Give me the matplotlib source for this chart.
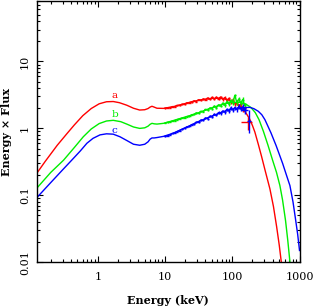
import matplotlib
matplotlib.use("Agg")
import matplotlib.pyplot as plt
import numpy as np

# ---- model curves (Energy keV, Energy x Flux) ----
E_a = [0.125, 0.165, 0.25, 0.35, 0.45, 0.6, 0.8, 1.05, 1.35, 1.7, 2.1, 2.7, 3.4, 4.2, 5.0, 5.6, 6.0, 6.4,
       6.9, 7.6, 9.5, 13, 17, 25, 35, 50, 65, 80, 100, 120, 140, 160, 180, 200, 217, 245, 273, 310, 363,
       410, 457, 500, 540]
F_a = [0.216, 0.32, 0.56, 0.84, 1.13, 1.55, 1.98, 2.33, 2.5, 2.52, 2.42, 2.22, 2.0, 1.88, 1.9, 1.98, 2.08,
       2.14, 2.08, 2.0, 1.99, 2.1, 2.25, 2.5, 2.68, 2.8, 2.82, 2.75, 2.55, 2.3, 2.0, 1.7, 1.4, 1.1, 0.88,
       0.57, 0.38, 0.23, 0.125, 0.068, 0.034, 0.018, 0.0095]

E_b = [0.125, 0.2, 0.31, 0.45, 0.61, 0.8, 1.05, 1.35, 1.7, 2.2, 2.7, 3.4, 4.2, 5.0, 5.6, 6.0, 6.4, 6.9, 7.6,
       9.5, 13, 17, 25, 30, 47, 73, 100, 130, 160, 190, 220, 250, 291, 340, 398, 455, 511, 560, 620, 670, 725]
F_b = [0.129, 0.22, 0.335, 0.52, 0.75, 0.98, 1.18, 1.29, 1.32, 1.26, 1.16, 1.05, 1.0, 1.02, 1.08, 1.15, 1.19,
       1.17, 1.16, 1.19, 1.3, 1.41, 1.58, 1.68, 1.99, 2.3, 2.45, 2.45, 2.3, 2.05, 1.72, 1.35, 0.9, 0.56,
       0.335, 0.22, 0.14, 0.085, 0.042, 0.021, 0.0095]

E_c = [0.125, 0.2, 0.3, 0.41, 0.55, 0.69, 0.85, 1.08, 1.35, 1.7, 2.14, 2.7, 3.4, 4.2, 5.0, 5.6, 6.0, 6.4, 6.9,
       7.6, 9.5, 13, 17, 23.5, 30, 47, 73, 103, 130, 160, 183, 210, 244, 275, 306, 376, 450, 561, 640, 720,
       800, 870, 940, 1000]
F_c = [0.093, 0.155, 0.24, 0.335, 0.46, 0.6, 0.71, 0.8, 0.83, 0.82, 0.75, 0.66, 0.58, 0.56, 0.58, 0.63, 0.69,
       0.72, 0.72, 0.73, 0.76, 0.84, 0.95, 1.1, 1.24, 1.49, 1.77, 1.95, 2.02, 2.05, 2.06, 1.97, 1.8, 1.6,
       1.35, 0.86, 0.55, 0.3, 0.2, 0.14, 0.08, 0.045, 0.026, 0.015]

# ---- data points ----
E_data = [10, 11, 12, 13, 14, 15, 16.5, 18, 19.5, 21, 23, 25, 27, 29, 31.5, 34, 37, 40, 43, 46.5, 50, 54, 58,
          62.5, 67, 72, 77, 83, 89, 95, 102, 109, 117, 125, 134, 143, 153]
D_a = [2.00, 2.04, 2.05, 2.12, 2.10, 2.20, 2.20, 2.30, 2.28, 2.40, 2.42, 2.48, 2.58, 2.52, 2.68, 2.62, 2.75,
       2.70, 2.85, 2.74, 2.90, 2.76, 2.92, 2.78, 2.95, 2.72, 2.88, 2.62, 2.80, 2.50, 2.66, 2.35, 2.45, 2.15,
       2.30, 1.90, 2.00]
D_b = [1.20, 1.23, 1.25, 1.29, 1.31, 1.35, 1.38, 1.43, 1.44, 1.50, 1.52, 1.60, 1.62, 1.70, 1.68, 1.80, 1.78,
       1.92, 1.88, 2.02, 1.98, 2.15, 2.05, 2.25, 2.15, 2.38, 2.22, 2.50, 2.32, 2.62, 2.40, 3.10, 2.45, 2.75,
       2.40, 2.70, 2.20]
D_c = [0.76, 0.78, 0.81, 0.84, 0.86, 0.89, 0.93, 0.97, 1.00, 1.05, 1.07, 1.14, 1.15, 1.24, 1.24, 1.33, 1.32,
       1.43, 1.40, 1.52, 1.50, 1.62, 1.58, 1.72, 1.68, 1.82, 1.75, 1.92, 1.83, 2.02, 1.90, 2.05, 1.92, 2.12,
       1.95, 2.10, 1.90]
rel_err = [0.01, 0.01, 0.01, 0.012, 0.012, 0.013, 0.014, 0.015, 0.016, 0.017, 0.018, 0.02, 0.021, 0.022,
           0.024, 0.025, 0.027, 0.029, 0.031, 0.033, 0.035, 0.037, 0.04, 0.042, 0.045, 0.048, 0.05, 0.053,
           0.056, 0.06, 0.064, 0.068, 0.072, 0.077, 0.082, 0.088, 0.095]

# high-energy points: (E, F, E_lo, E_hi, F_lo, F_hi)
hi_a = [(173, 1.26, 137, 194, 0.94, 1.49)]
hi_c = [(154, 1.88, 137, 170, 1.65, 2.12), (177, 1.30, 168, 190, 0.84, 1.90)]

labels = ["a", "b", "c"]
label_E = [1.76, 1.81, 1.76]
label_F = [3.05, 1.62, 0.94]
colors = ["#ff0000", "#00ee00", "#0000ff"]

fig = plt.figure(figsize=(3.16, 3.08), dpi=100)
ax = fig.add_axes([0.1171, 0.1484, 0.8307, 0.8484])
ax.set_xscale("log")
ax.set_yscale("log")

models = [(E_a, F_a), (E_b, F_b), (E_c, F_c)]
datas = [D_a, D_b, D_c]
Ed = np.array(E_data)
edges = np.sqrt(Ed[:-1] * Ed[1:])
lo = np.concatenate([[Ed[0] / (edges[0] / Ed[0])], edges])
hi = np.concatenate([edges, [Ed[-1] * (Ed[-1] / edges[-1])]])
for (E, F), D, col in zip(models, datas, colors):
    ax.plot(E, F, color=col, lw=1.0)
    D = np.array(D)
    yerr = D * np.array(rel_err)
    ax.plot(Ed, D, color=col, lw=1.0)
    ax.errorbar(Ed, D, xerr=[Ed - lo, hi - Ed], yerr=yerr, fmt="none", ecolor=col, elinewidth=1.0)

for pts, col in [(hi_a, colors[0]), (hi_c, colors[2])]:
    for (e, f, e0, e1, f0, f1) in pts:
        ax.errorbar([e], [f], xerr=[[e - e0], [e1 - e]], yerr=[[f - f0], [f1 - f]], fmt="none",
                    ecolor=col, elinewidth=1.0)

for t, x, y, col in zip(labels, label_E, label_F, colors):
    ax.text(x, y, t, color=col, fontsize=7.5, family="DejaVu Serif", ha="center", va="center")

ax.set_xlim(0.125, 1000)
ax.set_ylim(0.01, 80)
ax.set_xticks([1, 10, 100, 1000])
ax.set_xticklabels(["1", "10", "100", "1000"])
ax.set_yticks([0.01, 0.1, 1, 10])
ax.set_yticklabels(["0.01", "0.1", "1", "10"])
ax.tick_params(which="both", direction="in", top=True, right=True, labelsize=8, width=0.8)
ax.tick_params(which="major", length=4)
ax.tick_params(which="minor", length=2)
ax.tick_params(axis="x", pad=7)
ax.tick_params(axis="y", pad=5)
for lab in ax.get_xticklabels() + ax.get_yticklabels():
    lab.set_family("DejaVu Serif")
for lab in ax.get_yticklabels():
    lab.set_rotation(90)
    lab.set_va("center")
for s in ax.spines.values():
    s.set_linewidth(1.0)

ax.set_xlabel("Energy (keV)", fontsize=8, family="DejaVu Serif", fontweight="bold", labelpad=9)
ax.set_ylabel("Energy \u00d7 Flux", fontsize=8, family="DejaVu Serif", fontweight="bold", labelpad=6)

fig.savefig("out.png", dpi=100)
